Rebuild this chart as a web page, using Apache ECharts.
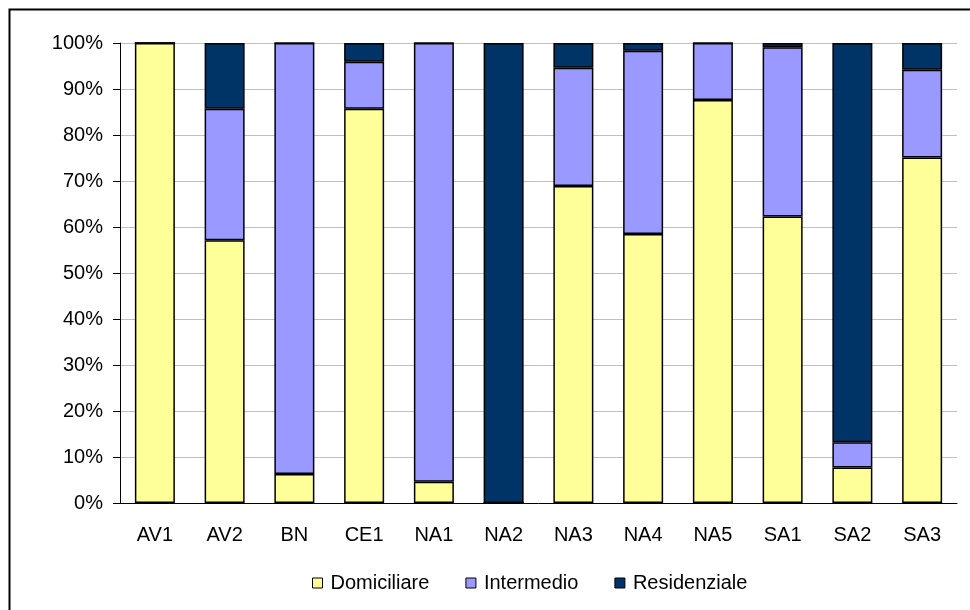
<!DOCTYPE html>
<html>
<head>
<meta charset="utf-8">
<script src="https://cdn.jsdelivr.net/npm/echarts@6/dist/echarts.min.js"></script>
<style>
  html, body { margin: 0; padding: 0; background: #fff; }
  #chart { width: 970px; height: 610px; }
</style>
</head>
<body>
<div id="chart"></div>
<script>
var categories = ['AV1', 'AV2', 'BN', 'CE1', 'NA1', 'NA2', 'NA3', 'NA4', 'NA5', 'SA1', 'SA2', 'SA3'];
var domiciliare = [100, 57.1, 6.3, 85.7, 4.6, 0, 68.9, 58.5, 87.6, 62.3, 7.7, 75.1];
var intermedio = [0, 28.6, 93.7, 10.2, 95.4, 0, 25.7, 39.8, 12.4, 36.8, 5.5, 19.1];
var residenziale = [0, 14.3, 0, 4.1, 0, 100, 5.4, 1.7, 0, 0.9, 86.8, 5.8];
var yTicks = [0, 10, 20, 30, 40, 50, 60, 70, 80, 90, 100];

var dom = document.getElementById('chart');
var myChart = echarts.init(dom);
var font = 'Liberation Sans, Arial, sans-serif';

function bar(name, data, color) {
    return {
        name: name,
        type: 'bar',
        stack: 'total',
        barWidth: 40,
        data: data,
        itemStyle: {color: color, borderColor: '#000', borderWidth: 1.5}
    };
}

var option = {
    animation: false,
    textStyle: {fontFamily: font},
    graphic: [{
        type: 'rect',
        shape: {x: 9.5, y: 9.5, width: 970, height: 620},
        style: {fill: 'none', stroke: '#000', lineWidth: 2}
    }],
    grid: {left: 120, right: 13, top: 43, bottom: 107},
    legend: {
        left: 307,
        top: 568,
        itemWidth: 10,
        itemHeight: 10,
        itemGap: 36,
        icon: 'rect',
        textStyle: {fontFamily: font, fontSize: 20, color: '#000', padding: [0, 0, 0, 3]},
        itemStyle: {borderColor: '#000', borderWidth: 1},
        data: ['Domiciliare', 'Intermedio', 'Residenziale']
    },
    xAxis: {
        type: 'category',
        data: categories,
        axisLine: {lineStyle: {color: '#000', width: 1}},
        axisTick: {show: false},
        axisLabel: {color: '#000', fontSize: 20, fontFamily: font, margin: 22}
    },
    yAxis: {
        type: 'value',
        min: yTicks[0],
        max: yTicks[yTicks.length - 1],
        interval: 10,
        axisLine: {show: true, lineStyle: {color: '#000', width: 1}},
        axisTick: {show: true, length: 7, lineStyle: {color: '#000'}},
        axisLabel: {color: '#000', fontSize: 20, fontFamily: font, margin: 17, formatter: '{value}%'},
        splitLine: {lineStyle: {color: '#c0c0c0', width: 1}}
    },
    series: [
        bar('Domiciliare', domiciliare, '#FFFF99'),
        bar('Intermedio', intermedio, '#9999FF'),
        bar('Residenziale', residenziale, '#003366')
    ]
};
myChart.setOption(option, true);

window.onresize = function () {
    myChart.resize();
};
</script>
</body>
</html>
